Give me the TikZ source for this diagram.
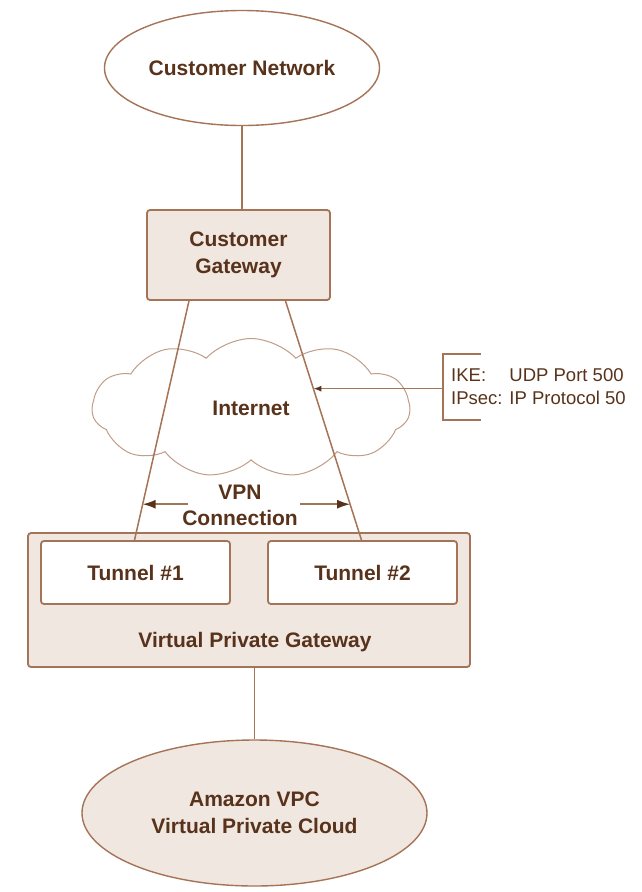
\documentclass[tikz,border=0pt]{standalone}
\usepackage{fontspec}
\setmainfont{Liberation Sans}
\usetikzlibrary{positioning,shapes.geometric,shapes.symbols,calc,arrows.meta}

\definecolor{awsline}{RGB}{165,115,85}
\definecolor{awstext}{RGB}{88,50,26}
\definecolor{awsfill}{RGB}{240,231,225}

\tikzset{
    box/.style={rectangle, draw=awsline, line width=1.8pt, rounded corners=3pt, fill=awsfill, text=awstext, font=\bfseries\fontsize{21}{27}\selectfont, align=center},
    tunnel/.style={box, fill=white, minimum width=189pt, minimum height=63pt},
    net/.style={ellipse, draw=awsline, line width=1.4pt, text=awstext, font=\bfseries\fontsize{21}{27}\selectfont, align=center},
    link/.style={draw=awsline, line width=1.5pt},
    tip/.style={link, -{Latex[length=13pt,width=9pt,color=awstext]}},
    smalltip/.style={link, -{Latex[length=8pt,width=6pt,color=awstext]}}
}

\begin{document}
\begin{tikzpicture}[x=1pt,y=-1pt]
        \useasboundingbox (0,0) rectangle (642,892);

        %-----Nodes-----

        % Customer Network
        \node[net, fill=white, minimum width=275pt, minimum height=115pt] (custnet) at (242,68) {Customer Network};

        % Customer Gateway
        \node[box, minimum width=183pt, minimum height=90pt] (custgw) at (238.5,255) {Customer\\Gateway};

        % Internet cloud
        \node[cloud, cloud puffs=11, cloud puff arc=95, aspect=2.3, draw=awsline!70, line width=1pt, fill=white, minimum width=318pt, minimum height=139pt, text=awstext, font=\bfseries\fontsize{21}{27}\selectfont] (internet) at (251,408) {Internet};

        % Virtual Private Gateway with its tunnels
        \node[box, minimum width=442pt, minimum height=134pt] (vpg) at (249,600) {};
        \node[tunnel] (tun1) at (135.5,572.5) {Tunnel \#1};
        \node[tunnel] (tun2) at (362.5,572.5) {Tunnel \#2};
        \node[text=awstext, font=\bfseries\fontsize{21}{27}\selectfont] (vpglabel) at (255,642) {Virtual Private Gateway};

        % Amazon VPC
        \node[net, fill=awsfill, minimum width=345pt, minimum height=146pt] (vpc) at (254.5,813) {Amazon VPC\\Virtual Private Cloud};

        % VPN label
        \node[text=awstext, font=\bfseries\fontsize{21}{26}\selectfont, align=center] (vpn) at (240,505) {VPN\\Connection};

        % IKE / IPsec label
        \node[anchor=west, text=awstext, font=\fontsize{18.5}{23}\selectfont, inner sep=2pt] (ike) at (449,388) {%
            \begin{tabular}{@{}l@{ }l@{}}
                IKE: & UDP Port 500 \\
                IPsec: & IP Protocol 50
            \end{tabular}};

        %-----Connections-----

        \draw[link] (custnet.south) -- (custnet.south |- custgw.north);

        % the two tunnels
        \coordinate (gwleft) at ([xshift=-49.5pt]custgw.south);
        \coordinate (gwright) at ([xshift=47pt]custgw.south);
        \draw[link] (gwleft) -- ([xshift=-1pt]tun1.north);
        \draw[link] (gwright) -- ([xshift=-1pt]tun2.north);

        \draw[link] (vpc.north |- vpg.south) -- (vpc.north);

        % VPN arrows
        \coordinate (vpnl) at ($(gwleft)!0.85!([xshift=-1pt]tun1.north)$);
        \coordinate (vpnr) at ($(gwright)!0.85!([xshift=-1pt]tun2.north)$);
        \draw[tip] ([xshift=45pt]vpnl) -- (vpnl);
        \draw[tip] ([xshift=-50pt]vpnr) -- (vpnr);

        % bracket and pointer
        \coordinate (ikehit) at ($(gwright)!0.367!([xshift=-1pt]tun2.north)$);
        \coordinate (brtop) at (443,354);
        \coordinate (brbot) at (443,420);
        \draw[link] ([xshift=38pt]brtop) -- (brtop) -- (brbot) -- ([xshift=38pt]brbot);
        \draw[smalltip] (brtop |- ikehit) -- (ikehit);

\end{tikzpicture}
\end{document}
